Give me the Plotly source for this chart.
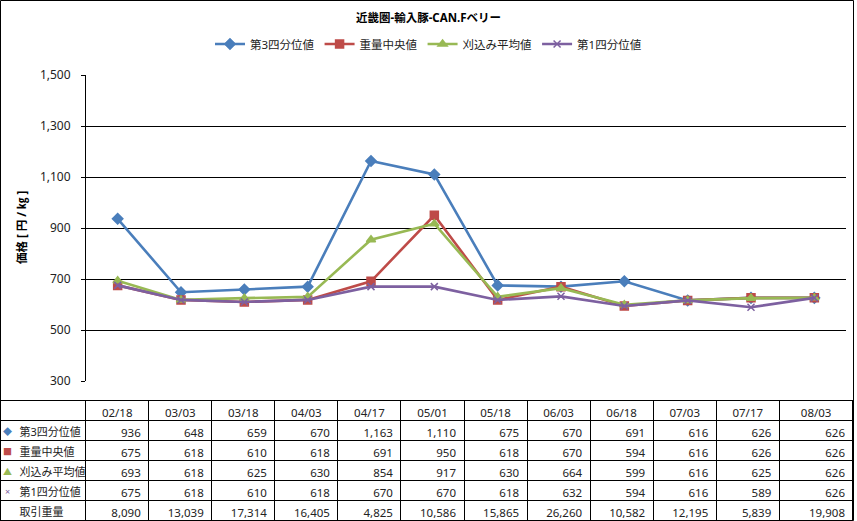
import plotly.graph_objects as go

# ---- data ----
dates = ["02/18", "03/03", "03/18", "04/03", "04/17", "05/01",
         "05/18", "06/03", "06/18", "07/03", "07/17", "08/03"]
q3 = [936, 648, 659, 670, 1163, 1110, 675, 670, 691, 616, 626, 626]
median = [675, 618, 610, 618, 691, 950, 618, 670, 594, 616, 626, 626]
trimmed = [693, 618, 625, 630, 854, 917, 630, 664, 599, 616, 625, 626]
q1 = [675, 618, 610, 618, 670, 670, 618, 632, 594, 616, 589, 626]
volume = [8090, 13039, 17314, 16405, 4825, 10586, 15865, 26260, 10582, 12195, 5839, 19908]
series_names = ["第3四分位値", "重量中央値", "刈込み平均値", "第1四分位値"]
volume_name = "取引重量"
y_ticks = [300, 500, 700, 900, 1100, 1300, 1500]
title_text = "近畿圏-輸入豚-CAN.Fベリー"
y_title = "価格 [ 円 / ㎏ ]"

# ---- styling ----
W, H = 857, 521
colors = ["#4A7EBB", "#BE4B48", "#98B954", "#7D60A0"]
symbols = ["diamond", "square", "triangle-up", "x-thin"]
table_syms = ["◆", "■", "▲", "×"]
FONT = "Noto Sans, Noto Sans CJK JP"
NB = "\u00a0"

def px(x):
    return x / W

def py(y):
    return 1 - y / H

series = [q3, median, trimmed, q1]

fig = go.Figure()
for name, vals, c, s in zip(series_names, series, colors, symbols):
    fig.add_trace(go.Scatter(
        x=dates, y=vals, name=name, mode="lines+markers",
        line=dict(color=c, width=2.6),
        marker=dict(symbol=s, size=8 if s != "x-thin" else 7, color=c,
                    line=dict(color=c, width=1.5)),
        xaxis="x", yaxis="y",
    ))

# table
label_col = [NB * 4 + n for n in series_names] + [NB * 4 + volume_name]

def fmt(v):
    return f"{v:,}"

cols = [label_col]
for i in range(len(dates)):
    cols.append([fmt(q3[i]), fmt(median[i]), fmt(trimmed[i]), fmt(q1[i]), fmt(volume[i])])

fig.add_trace(go.Table(
    domain=dict(x=[0, px(853.5)], y=[py(521), py(400)]),
    columnwidth=[86] + [63.3] * 11 + [74],
    header=dict(values=[""] + dates, align=["left"] + ["center"] * 12,
                height=20, line=dict(color="black", width=1),
                fill=dict(color="white"),
                font=dict(family=FONT, size=11.5, color="#222")),
    cells=dict(values=cols, align=["left"] + ["right"] * 12,
               height=20, line=dict(color="black", width=1),
               fill=dict(color="white"),
               font=dict(family=FONT, size=[11] + [11.5] * 12, color="#222")),
))

annotations = [
    dict(text=f"<b>{title_text}</b>", x=0.5, y=py(18), xref="paper", yref="paper",
         showarrow=False, font=dict(size=11.5, color="black"), xanchor="center", yanchor="middle"),
    dict(text=f"<b>{y_title}</b>", x=px(22), y=py(228), xref="paper", yref="paper",
         showarrow=False, textangle=-90, font=dict(size=11.5, color="black"),
         xanchor="center", yanchor="middle"),
]
# legend-key symbols in the table's first column
for k, (sym, c) in enumerate(zip(table_syms, colors)):
    annotations.append(dict(text=sym, x=px(8), y=py(431 + 20 * k), xref="paper", yref="paper",
                            showarrow=False, xanchor="center", yanchor="middle",
                            font=dict(size=9, color=c)))

fig.update_layout(
    width=W, height=H,
    margin=dict(l=0, r=0, t=0, b=0),
    paper_bgcolor="white", plot_bgcolor="white",
    font=dict(family=FONT, size=11, color="#222"),
    showlegend=True,
    legend=dict(orientation="h", x=0.5, xanchor="center", y=py(44), yanchor="middle",
                font=dict(size=11.5), itemwidth=30, tracegroupgap=0,
                bgcolor="rgba(0,0,0,0)"),
    xaxis=dict(domain=[px(86), px(846)], range=[-0.5, 11.5], type="category",
               showticklabels=False, showgrid=False, zeroline=False, showline=False,
               ticks=""),
    yaxis=dict(domain=[py(381), py(75)], range=[300, 1500], tickvals=y_ticks,
               tickformat=",", showgrid=True, gridcolor="black", gridwidth=1,
               showline=True, linecolor="black", linewidth=1,
               ticks="outside", ticklen=4, tickcolor="black",
               ticklabelstandoff=8, zeroline=False,
               tickfont=dict(size=12), automargin=False),
    annotations=annotations,
    shapes=[
        dict(type="rect", xref="paper", yref="paper", x0=px(0.5), x1=px(853.5),
             y0=py(520.5), y1=py(0.5), line=dict(color="black", width=1)),
    ],
)

fig.write_html("out.html",
               config={"displayModeBar": False},
               post_script="document.body.style.margin='0';document.body.style.overflow='hidden';")
